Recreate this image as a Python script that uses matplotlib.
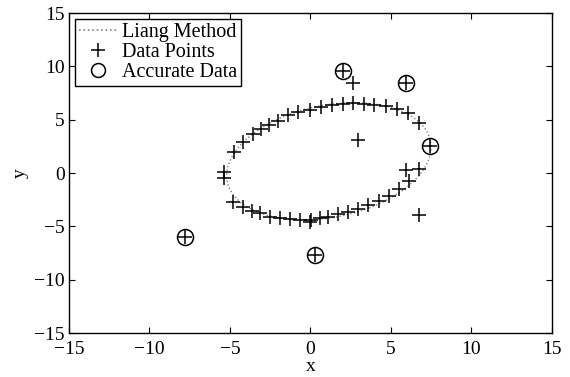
import numpy as np
import matplotlib
matplotlib.use('Agg')
import matplotlib.pyplot as plt
from matplotlib.patches import Ellipse
from matplotlib.lines import Line2D

plt.rcParams['font.family'] = ['Liberation Serif', 'DejaVu Serif']

# fitted ellipse (Liang method): center, full width/height, rotation in degrees
fit_center = (1.15, 1.1)
fit_width = 13.44
fit_height = 10.08
fit_angle = 29.7

# all data points
data_x = [-5.37, -5.37, -4.75, -4.17, -3.55, -3.07, -2.58, -2.0, -1.37, -0.75,
          -0.03, 0.65, 1.34, 2.02, 2.66, 3.32, 3.94, 4.69, 5.4, 6.06, 6.77,
          5.93, 6.72, 6.12, 5.5, 4.88, 4.25, 3.59, 2.97, 2.35, 1.73, 1.11, 0.59,
          0.03, 0.0, -0.65, -1.27, -1.89, -2.52, -3.14, -3.63, -4.17, -4.8,
          2.66, 2.97, 6.72,
          2.0, 5.93, 7.42, -7.8, 0.28]
data_y = [0.12, -0.5, 2.0, 2.93, 3.65, 4.12, 4.5, 4.92, 5.44, 5.72,
          5.95, 6.21, 6.37, 6.51, 6.56, 6.51, 6.42, 6.25, 6.0, 5.67, 4.73,
          0.28, 0.33, -0.75, -1.5, -2.16, -2.67, -3.0, -3.37, -3.61, -3.89, -4.1, -4.26,
          -4.36, -4.55, -4.36, -4.31, -4.22, -4.1, -3.78, -3.56, -3.23, -2.69,
          8.45, 3.09, -3.96,
          9.55, 8.4, 2.53, -6.0, -7.69]

# accurate data subset
acc_x = [2.0, 5.93, 7.42, -7.8, 0.28]
acc_y = [9.55, 8.4, 2.53, -6.0, -7.69]

tick_vals = [-15, -10, -5, 0, 5, 10, 15]
tick_labels = ['\u221215', '\u221210', '\u22125', '0', '5', '10', '15']

fig = plt.figure(figsize=(5.7, 3.77), dpi=100)
ax = fig.add_axes([0.121, 0.1167, 0.847, 0.8488])

ell = Ellipse(fit_center, fit_width, fit_height, angle=fit_angle,
              fill=False, edgecolor='#808080', linestyle=':', linewidth=1.0)
ax.add_patch(ell)
ax.plot(data_x, data_y, '+', color='k', markersize=9.5, markeredgewidth=1.1)
ax.plot(acc_x, acc_y, 'o', color='k', markerfacecolor='none', markersize=11.5,
        markeredgewidth=1.1)

ax.set_xlim(-15, 15)
ax.set_ylim(-15, 15)
ax.set_xticks(tick_vals)
ax.set_yticks(tick_vals)
ax.set_xticklabels(tick_labels)
ax.set_yticklabels(tick_labels)
ax.tick_params(direction='in', top=True, right=True, length=4, width=0.8,
               labelsize=14)
ax.tick_params(axis='x', pad=6)
ax.tick_params(axis='y', pad=3)
for s in ax.spines.values():
    s.set_linewidth(1.0)
ax.set_xlabel('x', fontsize=14, labelpad=0)
ax.set_ylabel('y', fontsize=14, labelpad=4)

handles = [
    Line2D([], [], color='#808080', linestyle=':', linewidth=1.2),
    Line2D([], [], color='k', marker='+', linestyle='none', markersize=10, markeredgewidth=1.1),
    Line2D([], [], color='k', marker='o', markerfacecolor='none', linestyle='none',
           markersize=10, markeredgewidth=1.1),
]
leg = ax.legend(handles, ['Liang Method', 'Data Points', 'Accurate Data'],
                loc='upper left', fontsize=14.5, fancybox=False, framealpha=1,
                edgecolor='k', borderaxespad=0.3, borderpad=0.2, labelspacing=0.05,
                handlelength=1.9, handletextpad=0.25)
leg.get_frame().set_linewidth(1.0)

fig.savefig('out.png', dpi=100)
